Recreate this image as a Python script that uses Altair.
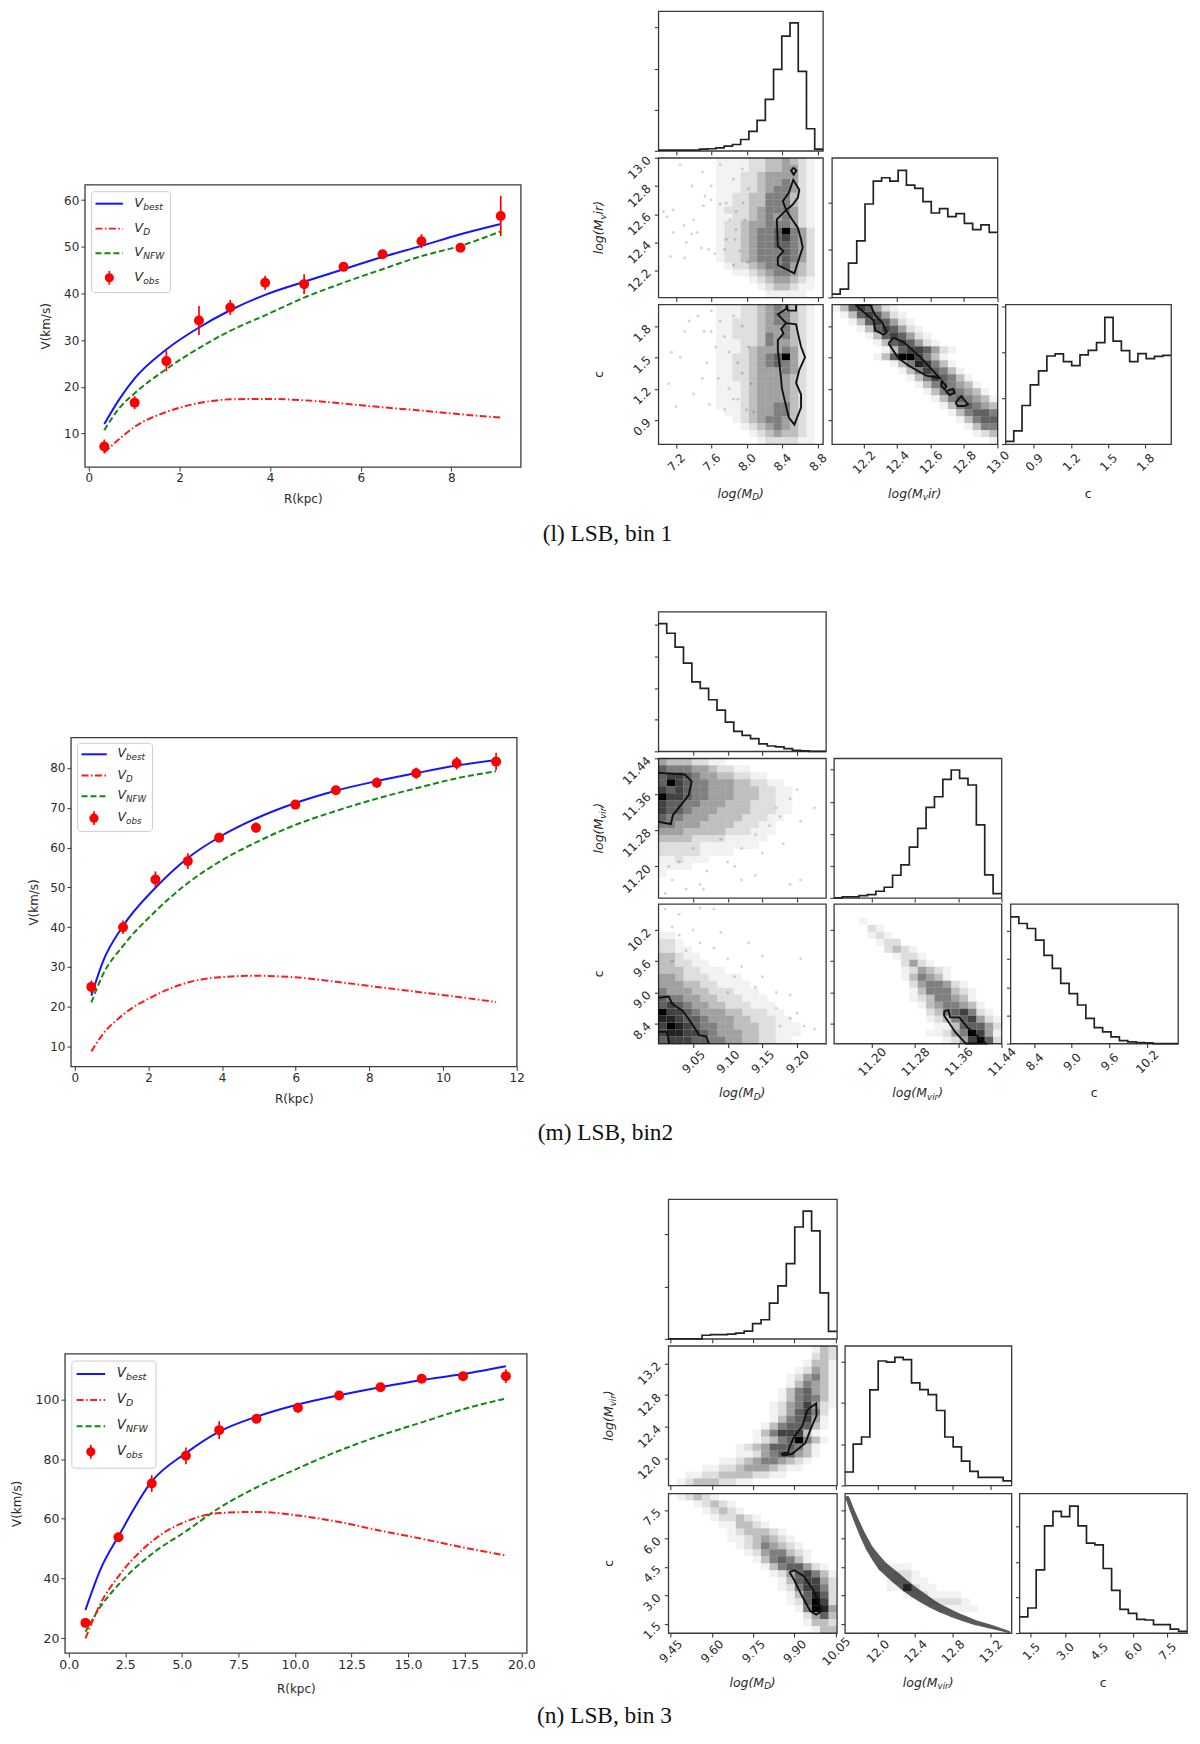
import altair as alt
import pandas as pd

# ---------- rotation curves ----------
R1 = [0.34,1.01,1.71,2.43,3.12,3.89,4.75,5.62,6.48,7.34,8.2,9.09]
OBS1 = [7.2,16.6,25.5,34.2,37.0,42.3,42.0,45.7,48.4,51.2,49.8,56.6]
ERR1 = [1.5,1.4,2.2,3.1,1.6,1.5,2.1,0.5,0.5,1.5,0.5,4.3]
RC1 = [0.34,0.67,1.01,1.71,2.43,3.12,3.89,4.75,5.62,6.48,7.34,8.2,9.09]
BEST1 = [12.0,17.3,21.8,28.0,32.7,36.4,39.7,42.5,45.2,47.8,50.2,52.7,54.9]
DISK1 = [5.9,8.8,11.4,14.6,16.5,17.3,17.4,17.1,16.4,15.6,14.9,14.1,13.4]
NFW1 = [10.7,15.4,18.6,23.8,28.3,32.0,35.3,39.1,42.3,45.2,48.0,50.2,53.3]

R2 = [0.45,1.31,2.19,3.07,3.92,4.92,5.99,7.09,8.2,9.27,10.37,11.44]
OBS2 = [25.0,40.0,52.0,56.6,62.5,65.0,70.8,74.4,76.3,78.7,81.2,81.6]
ERR2 = [1.6,1.7,2.0,2.0,1.2,1.3,0.8,0.7,1.3,1.4,1.6,2.2]
RC2 = [0.45,0.77,1.31,2.19,3.07,3.92,4.92,5.99,7.09,8.2,9.27,10.37,11.44]
BEST2 = [22.8,31.5,40.3,49.9,57.4,62.6,67.3,71.2,74.3,76.7,78.7,80.6,82.0]
DISK2 = [8.8,13.2,18.0,22.9,26.1,27.4,27.8,27.4,26.3,25.0,23.8,22.5,21.2]
NFW2 = [21.1,28.2,35.3,44.0,51.1,56.4,61.3,65.7,69.2,72.3,74.9,77.4,79.2]

R3 = [0.74,2.2,3.67,5.18,6.65,8.3,10.13,11.95,13.78,15.6,17.43,19.32]
OBS3 = [25.1,53.8,71.8,81.1,89.7,93.5,97.2,101.3,104.1,106.9,107.8,107.8]
ERR3 = [1.5,1.0,2.8,2.8,3.0,1.0,1.7,1.0,1.0,0.8,1.0,2.3]
RC3 = [0.74,1.42,2.2,3.67,5.18,6.65,8.3,10.13,11.95,13.78,15.6,17.43,19.32]
BEST3 = [29.4,43.3,54.1,72.5,82.0,89.2,94.2,98.3,101.4,104.1,106.5,108.5,111.1]
DISK3 = [19.9,31.8,40.7,52.4,59.1,61.9,62.3,61.1,58.9,56.0,53.3,50.4,47.7]
NFW3 = [22.1,30.7,37.9,48.2,55.8,63.6,70.5,76.9,82.8,87.9,92.3,96.7,100.3]

CAPTIONS = ["(l) LSB, bin 1", "(m) LSB, bin2", "(n) LSB, bin 3"]

# ---------- corner histograms ----------
H1A = [16,16,16,16,16,40,50,73,114,154,276,472,740,1252,1984,2789,3114,1935,537,40]
H1B = [70,175,721,1190,1967,2450,2520,2450,2674,2366,2296,2016,1778,1869,1701,1764,1561,1428,1526,1372]
H1C = [58,290,841,1290,1595,1921,1965,1798,1711,1943,2045,2211,2762,2247,2037,1798,1972,1863,1914,1936]
H2A = [4042,3737,3295,2789,2200,1989,1632,1305,926,632,505,400,232,168,137,84,32,11,0,0]
H2B = [0,31,31,73,104,208,333,708,1031,1583,2167,2823,3156,3698,3990,3729,3521,2281,719,135]
H2C = [4496,4260,4083,3670,3127,2667,2136,1770,1369,897,566,413,236,106,59,35,24,0,0,0]
H3A = [0,0,0,0,68,81,81,88,108,149,291,365,683,1014,1440,2143,2447,2069,879,142]
H3B = [326,1004,1175,2317,3020,2994,3106,3054,2488,2325,2205,1819,1175,935,592,343,197,197,197,112]
H3C = [455,703,1772,3010,3416,3267,3564,3010,2525,2475,1812,1198,663,554,386,366,238,238,109,50]

# ---------- 2-D density (0 empty .. 9 black) ----------
G1_21 = ["00000001111223343210","00000001111223344210","00000001112234444210","00000001112234454210","00000001112234554210",
 "00000001122335553210","00000001122335553210","00000001222345554210","00000001122345454210","00000001223445554210",
 "00000001223455695420","00000001223455675420","00000001223455665420","00000001223455565420","00000001223455565420",
 "00000000122345564320","00000000011234554320","00000000000123443210","00000000000012332110","00000000000001111100"]
G1_31 = ["00000001112234543210","00000001112234553210","00000001122234553210","00000001122234453210","00000001122235453210",
 "00000001112235443210","00000001112344454210","00000001122345694210","00000001122345654210","00000001122344454210",
 "00000001122344443210","00000001112344443210","00000001112344443210","00000001112344443210","00000001112344553210",
 "00000000112344553210","00000000012345543210","00000000001234543210","00000000000123433210","00000000000012222110"]
G1_32 = ["13676421000000000000","01367642100000000000","00136764210000000000","00013676421000000000","00001367642100000000",
 "00000136764210000000","00000013677642100000","00000136997531000000","00000001358753100000","00000000135765310000",
 "00000000013576531000","00000000001356543100","00000000000135654310","00000000000013565431","00000000000001356543",
 "00000000000000135665","00000000000000013566","00000000000000001355","00000000000000000123","00000000000000000001"]
G2_21 = ["43332211000000000000","65554432211000000000","67765443322110000000","69765544433221100000","76765544433322110000",
 "97765544433322110000","76655444333222110000","76654443333222110000","65544433332221100000","55444333322211000000",
 "44433333222111000000","33332222111110000000","22222111111100000000","22222111100000000000","11211100000000000000",
 "11110000000000000000","10000000000000000000","00000000000000000000","00000000000000000000","00000000000000000000"]
G2_31 = ["00000000000000000000","00000000000000000000","00000000000000000000","00000000000000000000","11000000000000000000",
 "22100000000000000000","22110000000000000000","33211000000000000000","33221100000000000000","33322111000000000000",
 "44322211110000000000","44433221111000000000","54443322211100000000","65544332221110000000","67654433222111000000",
 "97765444332221100000","88766544433222110000","79876554433322111000","78877654443322111000","67776655443322110000"]
G2_32 = ["00000000000000000000","00000000000000000000","00010000000000000000","00002100000000000000","00001210000000000000",
 "00000122000000000000","00000023210000000000","00000001221000000000","00000000242100000000","00000000124321000000",
 "00000000135431000000","00000000024554210000","00000000013555321000","00000000012355431000","00000000001345543100",
 "00000000000235675210","00000000000123567421","00000000000011366642","00000000000112459741","00000000000001247962"]
G3_21 = ["00000000000000000132","00000000000000000232","00000000000000001331","00000000000000012431","00000000000000124531",
 "00000000000000135431","00000000000001356431","00000000000001356531","00000000000012457421","00000000000012467520",
 "00000000000013567410","00000000000135666310","00000000001357773100","00000000001235695310","00000000123466653100",
 "00000000112456643100","00000011234554321000","00001122344432110000","00112233332211000000","01233322110000000000"]
G3_31 = ["01232100000000000000","00012321000000000000","00001232100000000000","00000122321000000000","00000011332100000000",
 "00000001233321000000","00000001123432100000","00000000123543210000","00000000012455321000","00000000001356531000",
 "00000000000135664210","00000000000012467531","00000000000001367742","00000000000001257752","00000000000000136862",
 "00000000000000126972","00000000000000015984","00000000000000002463","00000000000000001332","00000000000000000133"]
G3_32 = ["00000000000000000000","00000000000000000000","00000000000000000000","00000000000000000000","00000000000000000000",
 "00000000000000000000","00000000000000000000","00000000000000000000","00000000000000000000","00000000000000000000",
 "00001111000000000000","00000122100000000000","00000122110000000000","00000119211000000000","00000001221111000000",
 "00000000012222100000","00000000000111110000","00000000000000000000","00000000000000000000","00000000000000000000"]
# ridge of the narrow Mvir-c band (Mvir, c, band width in px)
BAND3_M = [11.681,11.725,11.77,11.84,11.911,11.98,12.053,12.195,12.301,12.39,12.479,12.56,12.656,12.78,12.904,13.04,13.188,13.3,13.40]
BAND3_C = [8.14,7.55,7.0,6.2,5.5,5.0,4.53,3.92,3.48,3.15,2.86,2.6,2.33,2.05,1.8,1.55,1.36,1.2,1.06]
BAND3_W = [4,4.5,5,6,7,8.5,10,11,11,10.5,10,9,8,7,6,5,4,3,2]

# sparse outlying samples (x, y)
D1_21 = [(7.06,12.62),(7.17,12.63),(7.10,12.58),(7.29,12.52),(7.38,12.46),(7.53,12.73),(7.60,12.70),(7.70,12.67),(7.77,12.68),(7.49,12.36),(7.57,12.35),(7.64,12.32),(7.30,12.29),(7.14,12.30),(7.81,12.56),(7.88,12.49),(7.87,12.42),(7.77,12.42),(7.92,12.34),(7.85,12.24),(7.75,12.35),(7.88,12.62),(7.96,12.68),(7.44,12.47),(7.51,12.66),(7.40,12.56),(7.17,12.47),(7.32,12.40),(7.98,12.56),(8.01,12.26),(7.25,12.95),(7.5,12.9),(7.7,12.95),(7.85,12.85),(7.6,12.8),(7.95,12.92),(8.02,12.78),(7.38,12.8)]
D1_31 = [(7.35,1.85),(7.45,1.9),(7.52,1.75),(7.6,1.95),(7.7,1.85),(7.75,1.7),(7.85,1.9),(7.95,1.8),(7.65,1.6),(7.8,1.55),(7.9,1.45),(7.15,1.55),(7.25,1.5),(7.12,1.25),(7.55,1.45),(7.5,1.3),(7.68,1.3),(7.8,1.2),(7.9,1.1),(8.0,1.0),(7.95,1.35),(7.4,1.15),(7.2,1.03),(7.58,1.05),(7.75,1.0),(7.85,1.1),(8.02,1.6),(7.6,1.75),(7.3,1.75),(8.05,1.25),(8.08,0.98)]
D2_21 = [(9.17,11.33),(9.19,11.35),(9.2,11.37),(9.225,11.33),(9.205,11.30),(9.16,11.29),(9.14,11.27),(9.12,11.24),(9.10,11.21),(9.11,11.20),(9.19,11.16),(9.205,11.17),(9.14,11.18),(9.06,11.16),(9.04,11.15),(9.02,11.17),(9.03,11.21),(9.05,11.24),(9.07,11.19),(9.01,11.14),(9.175,11.31),(9.15,11.23),(9.18,11.25),(9.12,11.17),(9.015,11.20),(9.065,11.15),(9.09,11.26)]
D2_31 = [(9.01,10.6),(9.03,10.5),(9.06,10.62),(9.08,10.6),(9.02,10.25),(9.03,10.1),(9.05,10.2),(9.06,9.95),(9.04,9.8),(9.08,9.85),(9.02,9.6),(9.1,9.65),(9.12,9.5),(9.11,9.3),(9.15,9.3),(9.14,9.1),(9.17,9.0),(9.19,8.95),(9.17,8.7),(9.2,8.6),(9.21,8.35),(9.225,8.3),(9.19,8.5),(9.175,8.35),(9.09,10.15),(9.205,9.65),(9.15,9.7),(9.13,9.95),(9.1,9.0)]

# ---------- contours (data coordinates) ----------
C1_21 = [[(8.445,12.629),(8.512,12.563),(8.576,12.504),(8.613,12.422),(8.632,12.363),(8.594,12.292),(8.538,12.181),(8.351,12.24),(8.351,12.292),(8.415,12.339),(8.351,12.375),(8.34,12.563),(8.445,12.629),(8.407,12.693),(8.475,12.752),(8.525,12.843),(8.594,12.773),(8.576,12.716),(8.52,12.669),(8.445,12.629)],
 [(8.53,12.93),(8.56,12.91),(8.53,12.88),(8.50,12.91),(8.53,12.93)]]
C1_31 = [[(8.445,1.831),(8.557,1.819),(8.579,1.73),(8.613,1.604),(8.658,1.503),(8.594,1.383),(8.557,1.257),(8.613,1.146),(8.613,1.02),(8.538,0.856),(8.475,0.925),(8.426,1.099),(8.396,1.209),(8.389,1.288),(8.351,1.573),(8.351,1.667),(8.415,1.73),(8.389,1.778),(8.445,1.831)],
 [(8.445,1.831),(8.351,1.914),(8.445,1.967),(8.452,2.005)],
 [(8.557,2.005),(8.557,1.951),(8.464,1.951),(8.452,2.005)]]
C1_32 = [[(12.348,1.636),(12.378,1.689),(12.437,1.651),(12.536,1.509),(12.655,1.304),(12.575,1.326),(12.477,1.415),(12.408,1.494),(12.348,1.636)],
 [(12.151,2.005),(12.24,2.005),(12.269,1.904),(12.309,1.841),(12.338,1.746),(12.319,1.721),(12.269,1.762),(12.259,1.857),(12.2,1.936),(12.151,2.005)],
 [(12.666,1.279),(12.694,1.225),(12.684,1.194),(12.664,1.225),(12.666,1.279)],
 [(12.69,1.178),(12.734,1.2),(12.743,1.162),(12.714,1.14),(12.69,1.178)],
 [(12.749,1.067),(12.783,1.13),(12.823,1.052),(12.803,1.036),(12.763,1.036),(12.749,1.067)]]
C2_21 = [[(9.0,11.408),(9.018,11.406),(9.038,11.404),(9.048,11.389),(9.044,11.359),(9.035,11.341),(9.021,11.314),(9.018,11.294),(9.0,11.299)]]
C2_31 = [[(9.0,8.897),(9.015,8.923),(9.02,8.78),(9.035,8.652),(9.047,8.426),(9.059,8.181),(9.069,8.155),(9.073,8.02)],
 [(9.0,8.25),(9.012,8.245),(9.016,8.02)]]
C2_32 = [[(11.334,8.639),(11.342,8.665),(11.345,8.523),(11.362,8.523),(11.377,8.329),(11.396,8.155),(11.411,8.02),(11.374,8.02),(11.355,8.232),(11.334,8.555),(11.334,8.639)]]
C3_21 = [[(9.852,12.055),(9.877,12.072),(9.883,12.149),(9.9,12.277),(9.928,12.404),(9.948,12.617),(9.979,12.694),(9.98,12.54),(9.958,12.362),(9.94,12.191),(9.892,12.055),(9.861,12.034),(9.852,12.055)]]
C3_31 = [[(9.882,4.232),(9.9,4.32),(9.934,4.004),(9.967,3.299),(9.994,2.419),(9.998,2.155),(9.979,1.979),(9.958,2.155),(9.928,2.947),(9.898,3.827),(9.882,4.232)]]

# ---------- axes set-up per bin ----------
BINS = [
 dict(dom=[(7.003,8.86),(12.01,13.0),(0.67,2.01)],
      ticks=[[7.2,7.6,8.0,8.4,8.8],[12.2,12.4,12.6,12.8,13.0],[0.9,1.2,1.5,1.8]],
      fmts=[".1f",".1f",".1f"], hmax=[3398,2940,3045],
      hist=[H1A,H1B,H1C], grids=[G1_21,G1_31,G1_32], cont=[C1_21,C1_31,C1_32], dots=[D1_21,D1_31,None],
      mname=[("log(M",0),("v",1),("ir)",0)],
      rot=dict(x=85,y=183,w=437,h=283), px=[(660,165),(834,166),(1008,166)], py=[9,156,303], ph=140,
      caption=(609,533)),
 dict(dom=[(9.0,9.2416),(11.13,11.44),(8.02,10.70)],
      ticks=[[9.05,9.10,9.15,9.20],[11.20,11.28,11.36,11.44],[8.4,9.0,9.6,10.2]],
      fmts=[".2f",".2f",".1f"], hmax=[4421,4355,4956],
      hist=[H2A,H2B,H2C], grids=[G2_21,G2_31,G2_32], cont=[C2_21,C2_31,C2_32], dots=[D2_21,D2_31,None],
      mname=[("log(M",0),("vir",1),(")",0)],
      rot=dict(x=71,y=737,w=447,h=330), px=[(660,168),(836,168),(1013,168)], py=[611,758,904], ph=140,
      caption=(607,1134)),
 dict(dom=[(9.4426,10.054),(11.653,13.425),(1.0,8.38)],
      ticks=[[9.45,9.60,9.75,9.90,10.05],[12.0,12.4,12.8,13.2],[1.5,3.0,4.5,6.0,7.5]],
      fmts=[".2f",".1f",".1f"], hmax=[2677,3389,3920],
      hist=[H3A,H3B,H3C], grids=[G3_21,G3_31,G3_32], cont=[C3_21,C3_31,None], dots=[None,None,None],
      mname=[("log(M",0),("vir",1),(")",0)],
      rot=dict(x=65,y=1355,w=463,h=300), px=[(670,169),(847,167),(1022,168)], py=[1200,1347,1495], ph=140,
      caption=(606,1718)),
]
ROTS = [
 dict(R=R1,obs=OBS1,err=ERR1,rc=RC1,best=BEST1,disk=DISK1,nfw=NFW1,xdom=(-0.09,9.53),ydom=(2.8,63.3),
      xt=[0,2,4,6,8],yt=[10,20,30,40,50,60],fmt="d",tp=15,yp=11,fs=12,
      box=(6.8,86,7,108),sx=(10.7,38.2),sy=[19,44,68.7,93.3],tx=49.6,mx=24.6,lf=13),
 dict(R=R2,obs=OBS2,err=ERR2,rc=RC2,best=BEST2,disk=DISK2,nfw=NFW2,xdom=(-0.107,12.0),ydom=(5.0,87.7),
      xt=[0,2,4,6,8,10,12],yt=[10,20,30,40,50,60,70,80],fmt="d",tp=15,yp=9,fs=12,
      box=(6.8,81.8,6,94.3),sx=(10.7,36),sy=[17,38.3,59,81],tx=46.8,mx=23.2,lf=12.5),
 dict(R=R3,obs=OBS3,err=ERR3,rc=RC3,best=BEST3,disk=DISK3,nfw=NFW3,xdom=(-0.17,20.24),ydom=(15.0,115.3),
      xt=[0,2.5,5,7.5,10,12.5,15,17.5,20],yt=[20,40,60,80,100],fmt=".1f",tp=17,yp=12,fs=12.5,
      box=(7,91.4,7.3,114.7),sx=(11.8,40.4),sy=[20.3,46.3,72.7,98.3],tx=52,mx=26,lf=13.5),
]

FONT = "DejaVu Sans"
INK = "#2a2a2a"
FRAME = alt.ViewBackground(stroke="#3a3a3a", strokeWidth=1.3)
CW = dict(zip("logM()virDVbestNFWc", [.278,.612,.635,.863,.39,.39,.592,.278,.411,.77,.684,.635,.615,.521,.392,.748,.575,.989,.55]))
ONE = pd.DataFrame({"a":[0]})
LEVEL_OPACITY = [0, .05, .13, .25, .37, .50, .62, .74, .86, 1]

def twidth(s, size):
    return sum(CW.get(ch, .6) for ch in s) * size

def rich(parts, cx, cy, size, angle=0, italic=True):
    """Text with subscripts, as several real text marks set one after the other."""
    subsize = size * 0.7
    total = sum(twidth(t, subsize if sub else size) for t, sub in parts)
    out, pos = [], -total / 2
    for t, sub in parts:
        sz = subsize if sub else size
        kw = dict(angle=angle) if angle else {}
        m = alt.Chart(ONE).mark_text(text=t, font=FONT, fontStyle="italic" if italic else "normal", fontSize=sz,
                                     color=INK, align="left", baseline="middle",
                                     dx=pos, dy=(size*0.28 if sub else 0), **kw).encode(x=alt.value(cx), y=alt.value(cy))
        out.append(m)
        pos += twidth(t, sz)
    return out

def axis(ticks, fmt=None, labels=False, orient="x"):
    kw = dict(values=ticks, title=None, grid=False, domain=False, tickSize=4, tickColor="#3a3a3a", tickWidth=1.1, labels=labels)
    if labels:
        kw.update(format=fmt, labelAngle=315, labelFont=FONT, labelFontSize=12, labelColor=INK, labelOverlap=False, labelFlush=False, labelBound=False)
        if orient == "x":
            kw.update(labelAlign="center", labelBaseline="middle", labelPadding=14)
        else:
            kw.update(labelAlign="right", labelBaseline="middle", labelPadding=6)
    return alt.Axis(**kw)

def qscale(d):
    return alt.Scale(domain=list(d), nice=False, zero=False)

def hist_panel(counts, dom, hmax, ticks, fmt, w, h, bottom, extra):
    step = (dom[1]-dom[0]) / len(counts)
    edges = [dom[0] + i*step for i in range(len(counts)+1)]
    df = pd.DataFrame({"x": edges, "n": list(counts)+[counts[-1]]})
    yt = list(range(0, int(hmax)+1, 1000))
    base = alt.Chart(df).mark_line(interpolate="step-after", color="#222222", strokeWidth=1.7).encode(
        x=alt.X("x:Q", scale=qscale(dom), axis=axis(ticks, fmt, bottom, "x")),
        y=alt.Y("n:Q", scale=qscale((0, hmax)), axis=axis(yt)), order="x:Q")
    return alt.layer(base, *extra).properties(width=w, height=h, view=FRAME)

def scatter_panel(grid, cont, dots, xd, yd, xt, yt, xf, yf, w, h, xlabel, ylabel, extra, band=None):
    rows = []
    nr = len(grid)
    for r, s in enumerate(grid):
        nc = 20
        for c, ch in enumerate(s[:nc]):
            lv = int(ch)
            if lv:
                rows.append(dict(x0=xd[0]+c*(xd[1]-xd[0])/nc, x1=xd[0]+(c+1)*(xd[1]-xd[0])/nc,
                                 y0=yd[1]-r*(yd[1]-yd[0])/nr, y1=yd[1]-(r+1)*(yd[1]-yd[0])/nr,
                                 o=LEVEL_OPACITY[lv]))
    ax_x, ax_y = axis(xt, xf, xlabel, "x"), axis(yt, yf, ylabel, "y")
    dens = alt.Chart(pd.DataFrame(rows)).mark_rect(fill="#000000", strokeWidth=0).encode(
        x=alt.X("x0:Q", scale=qscale(xd), axis=ax_x), x2="x1:Q",
        y=alt.Y("y0:Q", scale=qscale(yd), axis=ax_y), y2="y1:Q",
        opacity=alt.Opacity("o:Q", scale=None))
    layers = [dens]
    if dots:
        dd = pd.DataFrame(dots, columns=["x", "y"])
        layers.append(alt.Chart(dd).mark_circle(color="#000000", opacity=0.16, size=9).encode(
            x=alt.X("x:Q", scale=qscale(xd), axis=ax_x), y=alt.Y("y:Q", scale=qscale(yd), axis=ax_y)))
    if band:
        bd = pd.DataFrame({"x": band[0], "y": band[1], "w": band[2]})
        layers.append(alt.Chart(bd).mark_trail(color="#2a2a2a", opacity=0.78).encode(
            x=alt.X("x:Q", scale=qscale(xd), axis=ax_x), y=alt.Y("y:Q", scale=qscale(yd), axis=ax_y),
            size=alt.Size("w:Q", scale=None, legend=None), order="x:Q"))
    if cont:
        pts = [dict(x=p[0], y=p[1], k=k, i=i) for k, loop in enumerate(cont) for i, p in enumerate(loop)]
        layers.append(alt.Chart(pd.DataFrame(pts)).mark_line(color="#111111", strokeWidth=1.9).encode(
            x=alt.X("x:Q", scale=qscale(xd), axis=ax_x), y=alt.Y("y:Q", scale=qscale(yd), axis=ax_y),
            detail="k:N", order="i:Q"))
    return alt.layer(*layers, *extra).properties(width=w, height=h, view=FRAME)

def rot_panel(p, w, h):
    xs, ys = qscale(p["xdom"]), qscale(p["ydom"])
    ax = dict(grid=False, domain=False, tickSize=4, tickColor="#3a3a3a", labelFont=FONT, labelFontSize=p["fs"], labelColor=INK,
              labelOverlap=False, labelFlush=False, labelBound=False, titleFont=FONT, titleFontSize=12, titleFontWeight="normal", titleColor=INK)
    d = pd.DataFrame({"R": p["rc"], "best": p["best"], "disk": p["disk"], "nfw": p["nfw"]})
    o = pd.DataFrame({"R": p["R"], "v": p["obs"], "lo": [a-b for a, b in zip(p["obs"], p["err"])], "hi": [a+b for a, b in zip(p["obs"], p["err"])]})
    X = alt.X("R:Q", scale=xs, axis=alt.Axis(values=p["xt"], format=p["fmt"], title="R(kpc)", titlePadding=p["tp"]-5, **ax))
    YA = alt.Axis(values=p["yt"], title="V(km/s)", titlePadding=p["yp"], **ax)
    styles = [("best", "#1414ff", None), ("nfw", "#0f8a0f", [6, 3]), ("disk", "#ff1a1a", [7, 2.5, 1.5, 2.5])]
    layers = []
    for i, (col, color, dash) in enumerate(styles):
        kw = dict(strokeDash=dash) if dash else {}
        layers.append(alt.Chart(d).mark_line(color=color, strokeWidth=2, interpolate="monotone", **kw).encode(
            x=X, y=alt.Y(f"{col}:Q", scale=ys, axis=YA)))
    layers.append(alt.Chart(o).mark_rule(color="#ff0000", strokeWidth=1.7).encode(x=X, y=alt.Y("lo:Q", scale=ys, axis=YA), y2="hi:Q"))
    layers.append(alt.Chart(o).mark_point(filled=True, color="#ff0000", size=100, opacity=1).encode(x=X, y=alt.Y("v:Q", scale=ys, axis=YA)))
    # legend
    bx = p["box"]
    layers.append(alt.Chart(ONE).mark_rect(fill="#ffffff", fillOpacity=0.85, stroke="#cccccc", strokeWidth=1, cornerRadius=3).encode(
        x=alt.value(bx[0]), x2=alt.value(bx[1]), y=alt.value(bx[2]), y2=alt.value(bx[3])))
    names = [("best", "V", "best"), ("disk", "V", "D"), ("nfw", "V", "NFW"), ("obs", "V", "obs")]
    colors = {"best": ("#1414ff", None), "disk": ("#ff1a1a", [7, 2.5, 1.5, 2.5]), "nfw": ("#0f8a0f", [6, 3])}
    for (key, v, sub), yy in zip(names, p["sy"]):
        if key in colors:
            c, dash = colors[key]
            kw = dict(strokeDash=dash) if dash else {}
            layers.append(alt.Chart(ONE).mark_rule(color=c, strokeWidth=2, **kw).encode(x=alt.value(p["sx"][0]), x2=alt.value(p["sx"][1]), y=alt.value(yy)))
        else:
            layers.append(alt.Chart(ONE).mark_rule(color="#ff0000", strokeWidth=1.7).encode(x=alt.value(p["mx"]), y=alt.value(yy-7), y2=alt.value(yy+7)))
            layers.append(alt.Chart(ONE).mark_point(filled=True, color="#ff0000", size=85, opacity=1).encode(x=alt.value(p["mx"]), y=alt.value(yy)))
        lf = p["lf"]
        layers.append(alt.Chart(ONE).mark_text(text=v, font=FONT, fontStyle="italic", fontSize=lf, color=INK, align="left", baseline="middle").encode(x=alt.value(p["tx"]), y=alt.value(yy-1)))
        layers.append(alt.Chart(ONE).mark_text(text=sub, font=FONT, fontStyle="italic", fontSize=lf*0.7, color=INK, align="left", baseline="middle").encode(x=alt.value(p["tx"]+lf*0.684), y=alt.value(yy+3)))
    return alt.layer(*layers).properties(width=w, height=h, view=FRAME)

def spacer(w, h):
    return alt.Chart(ONE).mark_rect(opacity=0).encode(x=alt.value(0), x2=alt.value(0), y=alt.value(0), y2=alt.value(0)).properties(width=w, height=h)

def placed(chart, x, y):
    """Nested flush concats: a wide spacer, then a tall spacer above the panel."""
    inner = alt.vconcat(spacer(1, y), chart, spacing=0, bounds="flush")
    return alt.hconcat(spacer(x, 1), inner, spacing=0, bounds="flush")

panels = []
for b, (B, P) in enumerate(zip(BINS, ROTS)):
    rt = B["rot"]
    panels.append(placed(rot_panel(P, rt["w"], rt["h"]), rt["x"]-8, rt["y"]-8))
    cx, cy = B["caption"]
    cap = alt.Chart(pd.DataFrame({"t": [CAPTIONS[b]]})).mark_text(font="Liberation Serif", fontSize=23.4, color="#111111", align="center", baseline="middle").encode(
        text="t:N", x=alt.value(80), y=alt.value(10))
    panels.append(placed(cap.properties(width=160, height=20), cx-8-80, cy-8-10))
    ph = B["ph"]
    mname = B["mname"]
    md = [("log(M", 0), ("D", 1), (")", 0)]
    xlabels = [md, mname, [("c", 0)]]
    names_y = [mname, [("c", 0)]]
    d, t, f = B["dom"], B["ticks"], B["fmts"]
    for i in range(3):
        w = B["px"][i][1]
        extra = rich([("c", 0)], w/2, ph+50, 12.5, italic=False) if i == 2 else []
        panels.append(placed(hist_panel(B["hist"][i], d[i], B["hmax"][i], t[i], f[i], w, ph, i == 2, extra), B["px"][i][0]-8, B["py"][i]-8))
    for gi, (ri, ci) in enumerate([(1, 0), (2, 0), (2, 1)]):
        w = B["px"][ci][1]
        extra = []
        if ri == 2:
            extra += rich(xlabels[ci], w/2, ph+50, 12.5, italic=(ci != 2))
        if ci == 0:
            parts = names_y[ri-1]
            extra += rich(parts, -59, ph/2, 12.5, angle=270, italic=(parts[0][0] != "c"))
        band = (BAND3_M, BAND3_C, BAND3_W) if (b == 2 and gi == 2) else None
        panels.append(placed(scatter_panel(B["grids"][gi], B["cont"][gi], B["dots"][gi], d[ci], d[ri], t[ci], t[ri], f[ci], f[ri], w, ph, ri == 2, ci == 0, extra, band),
                             B["px"][ci][0]-8, B["py"][ri]-8))

chart = alt.hconcat(*panels, spacing=0, bounds="flush")
chart = chart.properties(padding=0).configure_view(stroke=None)

chart.save("out.html", embed_options={"renderer": "svg", "actions": False})
